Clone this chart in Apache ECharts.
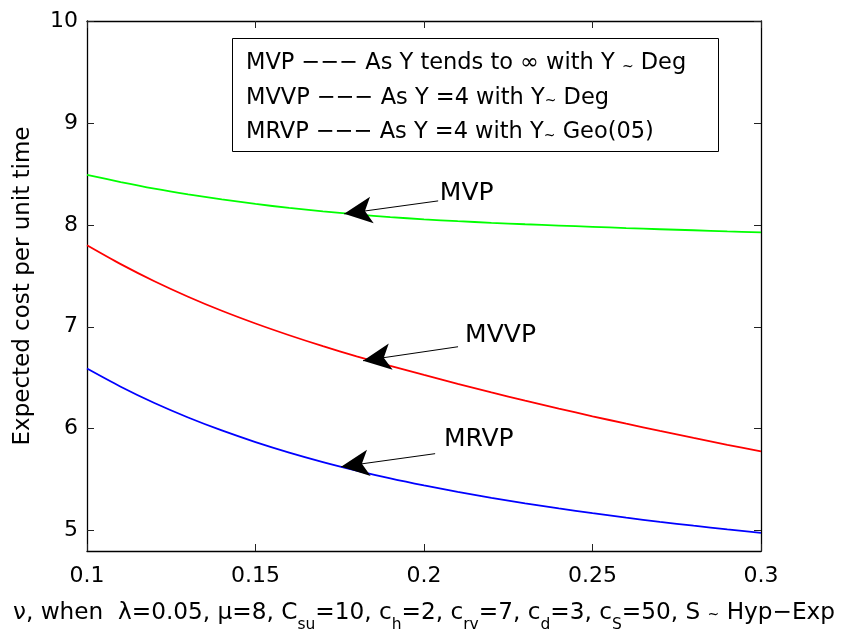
<!DOCTYPE html>
<html><head><meta charset="utf-8">
<script src="https://cdn.jsdelivr.net/npm/echarts@6/dist/echarts.min.js"></script>
<style>html,body{margin:0;padding:0;background:#fff}#c{width:844px;height:642px}</style>
</head><body><div id="c"></div>
<script>
// ---- data ----
const nu   = [0.10,0.11,0.12,0.13,0.14,0.15,0.16,0.17,0.18,0.19,0.20,0.21,0.22,0.23,0.24,0.25,0.26,0.27,0.28,0.29,0.30];
const mvp  = [8.490,8.420,8.356,8.300,8.250,8.205,8.166,8.132,8.102,8.076,8.054,8.036,8.020,8.006,7.993,7.981,7.968,7.957,7.947,7.936,7.926];
const mvvp = [7.800,7.615,7.447,7.295,7.157,7.032,6.917,6.810,6.710,6.616,6.527,6.440,6.356,6.275,6.197,6.122,6.049,5.978,5.909,5.842,5.777];
const mrvp = [6.590,6.412,6.252,6.110,5.983,5.869,5.766,5.673,5.589,5.512,5.443,5.380,5.322,5.268,5.218,5.171,5.127,5.086,5.048,5.012,4.978];
const xTicks = [0.1,0.15,0.2,0.25,0.3];
const yTicks = [5,6,7,8,9,10];
const seriesNames  = ['MVP','MVVP','MRVP'];
const seriesColors = ['#00ff00','#ff0000','#0000ff'];
const arrowTail = [[0.2042,8.235],[0.2101,6.804],[0.2033,5.755]];
const arrowTip  = [[0.1763,8.108],[0.1819,6.667],[0.1754,5.627]];
const labelAt   = [[0.2047,8.304],[0.2122,6.912],[0.2059,5.892]];
const legendLines = [
  'MVP −−− As Y tends to ∞ with Y {t|~} Deg',
  'MVVP −−− As Y =4 with Y{t|~} Deg',
  'MRVP −−− As Y =4 with Y{t|~} Geo(05)'
];
const xName = '{n|ν, when  λ=0.05, μ=8, C}{s|su}{n|=10, c}{s|h}{n|=2, c}{s|rv}{n|=7, c}{s|d}{n|=3, c}{s|S}{n|=50, S }{t|~}{n| Hyp−Exp}';
const yName = 'Expected cost per unit time';

const FONT = '"DejaVu Sans", "Liberation Sans", Arial, sans-serif';
const seriesData = [mvp, mvvp, mrvp];

const chart = echarts.init(document.getElementById('c'), null, {renderer:'canvas'});

const tickStyle = {show:true, inside:true, length:7, lineStyle:{color:'#222', width:1}};
const lineStyle = {show:true, lineStyle:{color:'#000', width:1.3}};

const series = seriesNames.map((name, i) => ({
  name, type:'line', showSymbol:false, smooth:0.3,
  lineStyle:{color:seriesColors[i], width:1.8},
  itemStyle:{color:seriesColors[i]},
  data: nu.map((x, k) => [x, seriesData[i][k]]),
  markLine:{
    silent:true, animation:false,
    lineStyle:{color:'#000', width:1, type:'solid'},
    label:{show:false},
    data:[[
      {coord:arrowTail[i], symbol:'none'},
      {coord:arrowTip[i], symbol:'arrow', symbolSize:[20,28]}
    ]]
  },
  markPoint:{
    silent:true, animation:false,
    symbol:'circle', symbolSize:0,
    label:{show:true, position:'right', distance:0, color:'#000', fontSize:25, fontFamily:FONT, formatter:name},
    data:[{coord:labelAt[i]}]
  }
}));

chart.setOption({
  animation:false,
  backgroundColor:'#fff',
  grid:{left:87, right:83, top:21, bottom:91, show:false},
  xAxis:[
    {type:'value', min:0.1, max:0.3, position:'bottom',
     name:xName, nameLocation:'middle', nameGap:50,
     nameTextStyle:{color:'#000', fontFamily:FONT,
       rich:{
         n:{fontSize:23.2, lineHeight:26, fontFamily:FONT, color:'#000', verticalAlign:'top'},
         s:{fontSize:15.5, lineHeight:18, fontFamily:FONT, color:'#000', verticalAlign:'top', padding:[16,0,0,0]},
         t:{fontSize:14, lineHeight:18, fontFamily:FONT, color:'#000', verticalAlign:'top', padding:[7,0,0,0]}
       }},
     axisLine:lineStyle, axisTick:Object.assign({customValues:xTicks}, tickStyle),
     axisLabel:{customValues:xTicks, color:'#000', fontSize:22, fontFamily:FONT, margin:14},
     splitLine:{show:false}},
    {type:'value', min:0.1, max:0.3, position:'top',
     axisLine:lineStyle, axisTick:Object.assign({customValues:xTicks}, tickStyle),
     axisLabel:{show:false, customValues:xTicks}, splitLine:{show:false}}
  ],
  yAxis:[
    {type:'value', min:4.8, max:10, position:'left',
     name:yName, nameLocation:'middle', nameGap:52,
     nameTextStyle:{color:'#000', fontSize:23, fontFamily:FONT},
     axisLine:lineStyle, axisTick:Object.assign({customValues:yTicks}, tickStyle),
     axisLabel:{customValues:yTicks, color:'#000', fontSize:22, fontFamily:FONT, margin:9},
     splitLine:{show:false}},
    {type:'value', min:4.8, max:10, position:'right',
     axisLine:lineStyle, axisTick:Object.assign({customValues:yTicks}, tickStyle),
     axisLabel:{show:false, customValues:yTicks}, splitLine:{show:false}}
  ],
  series,
  graphic:[
    {type:'rect', left:232, top:38, z:100,
     shape:{width:486, height:113}, style:{fill:'#fff', stroke:'#000', lineWidth:1}},
    ...legendLines.map((t, i) => ({
      type:'text', left:246, top:52 + i*34.5, z:101,
      style:{text:t, fill:'#000', fontSize:22.5, fontFamily:FONT,
        rich:{t:{fontSize:14, fontFamily:FONT, fill:'#000', padding:[7,0,0,0]}}}
    }))
  ]
});
</script></body></html>
